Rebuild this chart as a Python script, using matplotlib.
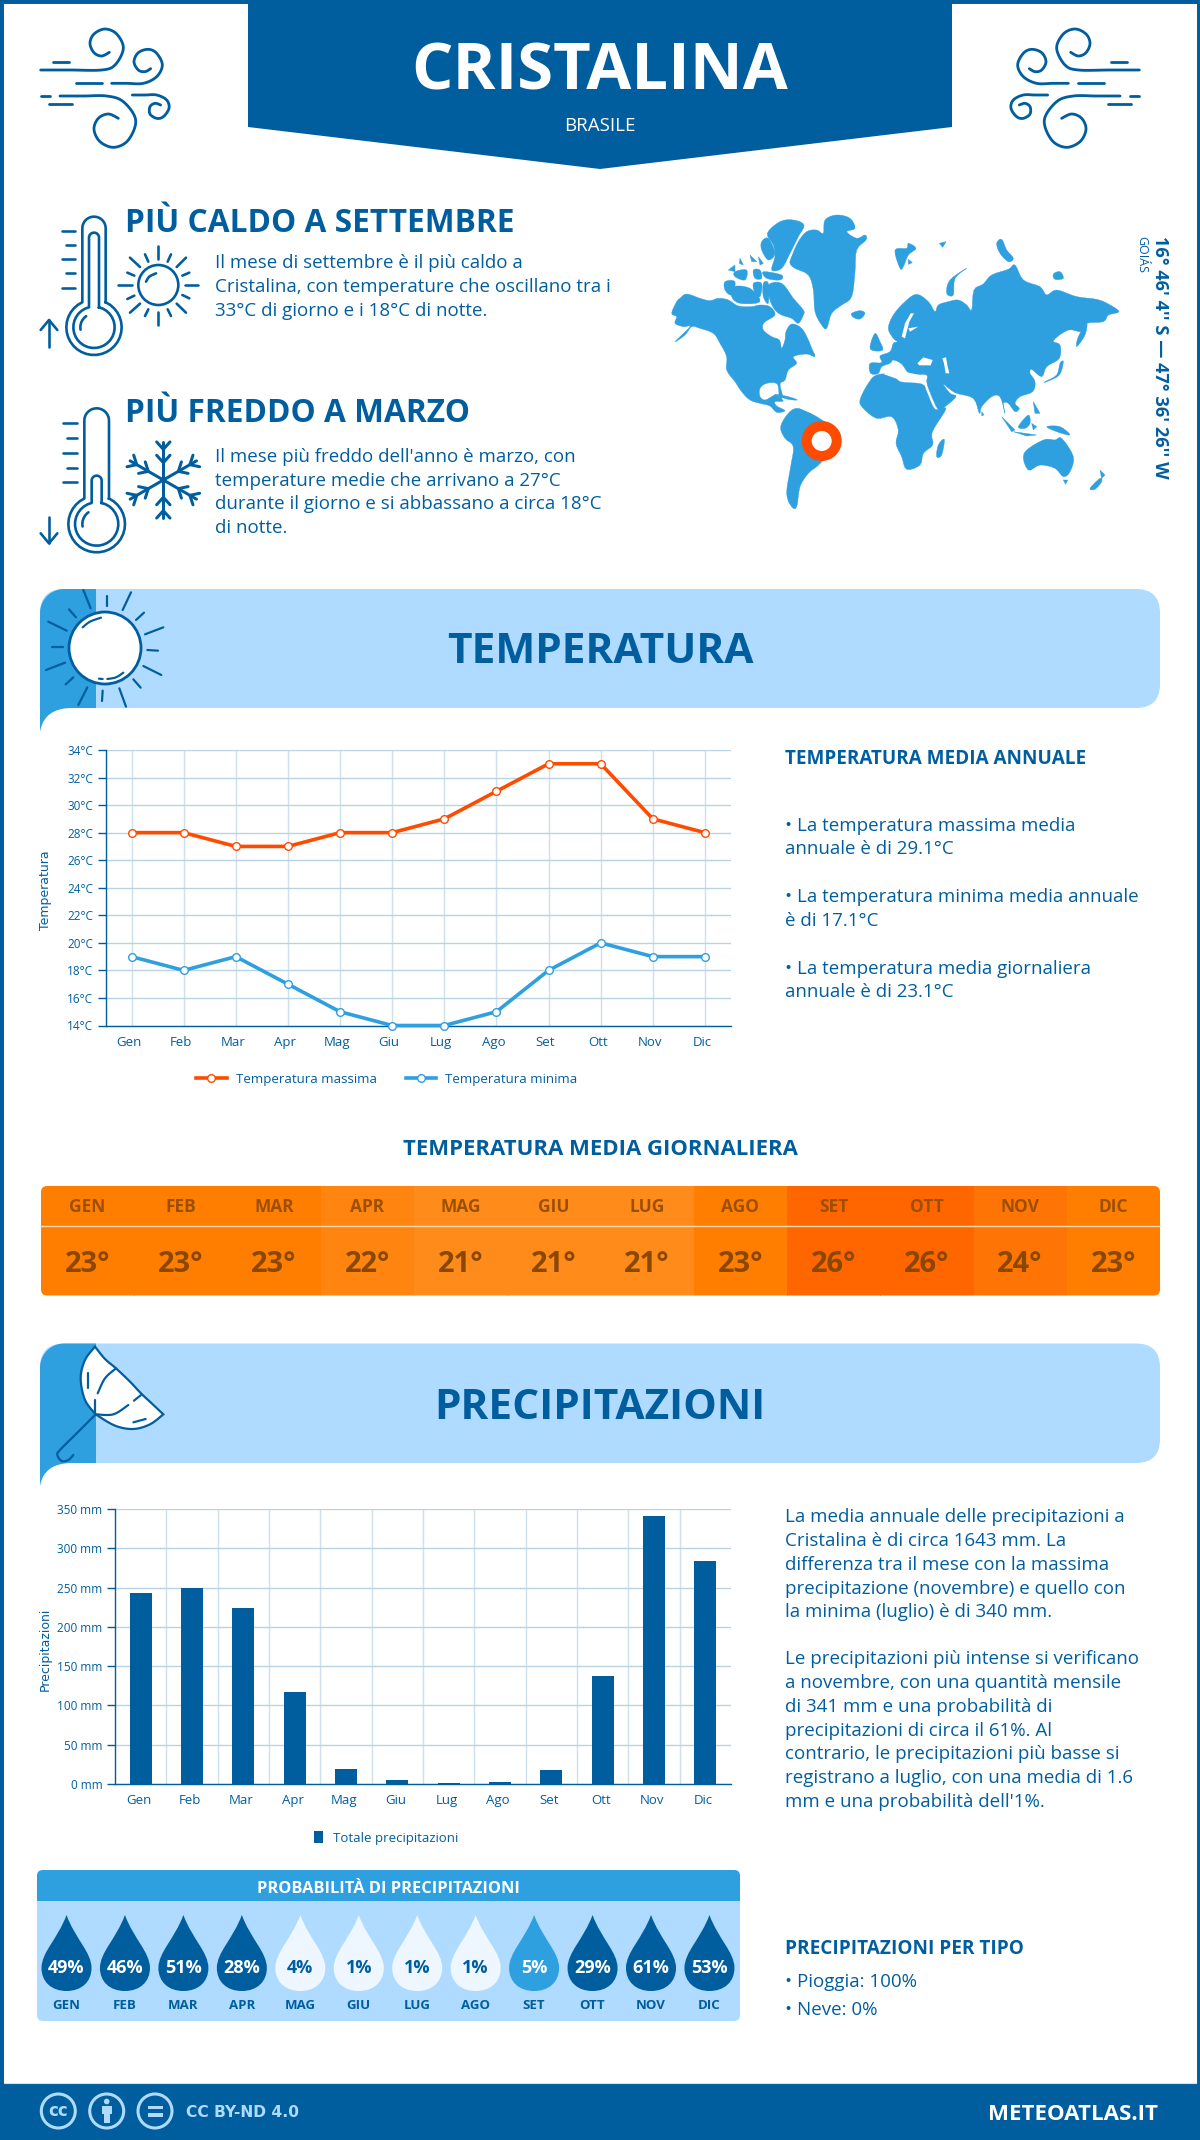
import numpy as np
import matplotlib
matplotlib.use("Agg")
import matplotlib.pyplot as plt
from matplotlib.patches import Circle, FancyBboxPatch, PathPatch, Polygon, Rectangle
from matplotlib.path import Path
from matplotlib.transforms import ScaledTranslation

plt.rcParams["font.family"] = ["Open Sans", "DejaVu Sans"]

BLUE = "#015e9e"
MID = "#2e9fdf"
LIGHT = "#aedbff"
RED = "#ff4b00"
GRID = "#b9d2e4"
W, H = 1200, 2140

months = ["Gen", "Feb", "Mar", "Apr", "Mag", "Giu", "Lug", "Ago", "Set", "Ott", "Nov", "Dic"]
temp_max = [28, 28, 27, 27, 28, 28, 29, 31, 33, 33, 29, 28]
temp_min = [19, 18, 19, 17, 15, 14, 14, 15, 18, 20, 19, 19]
temp_ticks = [14, 16, 18, 20, 22, 24, 26, 28, 30, 32, 34]
temp_avg = [23, 23, 23, 22, 21, 21, 21, 23, 26, 26, 24, 23]
temp_avg_colors = ["#ff7e00", "#ff7e00", "#ff7e00", "#ff8510", "#ff8c1a", "#ff8c1a",
                   "#ff8c1a", "#ff7e00", "#ff6600", "#ff6600", "#ff7505", "#ff7e00"]
rain = [243.6, 250, 224.5, 117, 19.5, 5.5, 1.6, 3, 18, 138, 341, 284]
rain_ticks = [0, 50, 100, 150, 200, 250, 300, 350]
rain_prob = [49, 46, 51, 28, 4, 1, 1, 1, 5, 29, 61, 53]

text_caldo = ["Il mese di settembre è il più caldo a",
              "Cristalina, con temperature che oscillano tra i",
              "33°C di giorno e i 18°C di notte."]
text_freddo = ["Il mese più freddo dell'anno è marzo, con",
               "temperature medie che arrivano a 27°C",
               "durante il giorno e si abbassano a circa 18°C",
               "di notte."]
text_temp = [(831, "• La temperatura massima media"), (854, "annuale è di 29.1°C"),
             (902, "• La temperatura minima media annuale"), (925.5, "è di 17.1°C"),
             (973.5, "• La temperatura media giornaliera"), (997, "annuale è di 23.1°C")]
text_rain = [(1522, "La media annuale delle precipitazioni a"),
             (1546, "Cristalina è di circa 1643 mm. La"),
             (1569.5, "differenza tra il mese con la massima"),
             (1593.5, "precipitazione (novembre) e quello con"),
             (1617, "la minima (luglio) è di 340 mm."),
             (1664, "Le precipitazioni più intense si verificano"),
             (1688, "a novembre, con una quantità mensile"),
             (1712, "di 341 mm e una probabilità di"),
             (1735.5, "precipitazioni di circa il 61%. Al"),
             (1759, "contrario, le precipitazioni più basse si"),
             (1783, "registrano a luglio, con una media di 1.6"),
             (1807, "mm e una probabilità dell'1%.")]

fig = plt.figure(figsize=(W / 100, H / 100), dpi=100, facecolor="white")
bg = fig.add_axes([0, 0, 1, 1])
bg.set_xlim(0, W)
bg.set_ylim(H, 0)
bg.axis("off")


def txt(x, y, s, size, color=BLUE, weight="normal", ha="left", **kw):
    bg.text(x, y, s, fontsize=size, color=color, fontweight=weight, ha=ha, va="baseline", **kw)


def curve(pts, closed=False, n=10):
    # catmull-rom through the given points, for the icons
    p = np.array(pts, dtype=float)
    if closed:
        p = np.vstack([p[-1], p, p[:2]])
    else:
        p = np.vstack([p[0], p, p[-1]])
    out = []
    for i in range(1, len(p) - 2):
        for t in np.linspace(0, 1, n, endpoint=False):
            a = 2 * p[i] + (p[i + 1] - p[i - 1]) * t
            b = (2 * p[i - 1] - 5 * p[i] + 4 * p[i + 1] - p[i + 2]) * t ** 2
            c = (-p[i - 1] + 3 * p[i] - 3 * p[i + 1] + p[i + 2]) * t ** 3
            out.append(0.5 * (a + b + c))
    out.append(p[-2])
    return np.array(out)


def stroke(pts, x0, y0, lw=2.6, color=BLUE, scale=1 / 3, mirror=None, smooth=True, zorder=3):
    p = curve(pts) if smooth and len(pts) > 2 else np.array(pts, dtype=float)
    xs = x0 + p[:, 0] * scale
    ys = y0 + p[:, 1] * scale
    if mirror is not None:
        xs = mirror - xs
    bg.plot(xs, ys, color=color, lw=lw * 0.72, solid_capstyle="round", zorder=zorder)


def arc(cx, cy, r, a0, a1, n=30):
    a = np.radians(np.linspace(a0, a1, n))
    return np.column_stack([cx + r * np.cos(a), cy + r * np.sin(a)])


# frame and banner
bg.add_patch(Rectangle((0, 0), W, H, fc="none", ec=BLUE, lw=5))
bg.add_patch(Polygon([(248, 0), (952, 0), (952, 127), (600, 169), (248, 127)], fc=BLUE, ec="none"))
txt(600, 89, "CRISTALINA", 47, color="white", weight="bold", ha="center")
txt(600, 131, "BRASILE", 13.5, color="white", ha="center")

wind = [
    [(62, 180), (150, 180), (245, 180), (285, 165), (310, 115), (290, 72), (255, 57), (222, 72), (210, 100), (222, 128), (245, 138), (268, 127)],
    [(100, 155), (148, 155)],
    [(275, 220), (320, 220), (370, 220), (410, 200), (427, 165), (410, 130), (385, 118), (355, 128), (342, 155), (355, 180), (375, 185), (392, 176)],
    [(168, 220), (245, 220)],
    [(62, 258), (90, 258)],
    [(120, 258), (190, 258), (260, 258), (310, 275), (347, 330), (325, 390), (282, 412), (240, 395), (222, 358), (235, 325), (265, 312), (295, 325)],
    [(87, 283), (155, 283)],
    [(337, 255), (375, 255), (410, 255), (440, 270), (447, 295), (430, 320), (410, 325), (390, 312), (390, 290), (405, 280), (422, 285)],
]
for pts in wind:
    stroke(pts, 20, 10, lw=2.8)
    stroke(pts, 20, 10, lw=2.8, mirror=1180)

# hot / cold headings
txt(125, 231.5, "PIÙ CALDO A SETTEMBRE", 22.8, weight="bold")
txt(125, 421.7, "PIÙ FREDDO A MARZO", 22.8, weight="bold")
for y, line in zip([268, 292, 315.5], text_caldo):
    txt(215, y, line, 13.5)
for y, line in zip([462.5, 486, 509, 533], text_freddo):
    txt(215, y, line, 13.5)


def thermometer(x0, y0, cx, top, hw, by, R, ih, itop, iR, ticks):
    a = np.degrees(np.arccos(hw / R))
    ai = np.degrees(np.arccos(ih / iR))
    outer = np.vstack([arc(cx, by, R, -a, 180 + a), arc(cx, top, hw, 180, 360)])
    inner = np.vstack([arc(cx, by, iR, -ai, 180 + ai), arc(cx, itop, ih, 180, 360)])
    for shape in (outer, inner):
        shape = np.vstack([shape, shape[0]])
        bg.plot(x0 + shape[:, 0] / 3, y0 + shape[:, 1] / 3, color=BLUE, lw=1.9)
    for x1, x2, y in ticks:
        stroke([(x1, y), (x2, y)], x0, y0)
    h = arc(cx, by, iR * 0.66, 170, 235, 12)
    bg.plot(x0 + h[:, 0] / 3, y0 + h[:, 1] / 3, color=BLUE, lw=1.9, solid_capstyle="round")


thermometer(30, 205, 192, 70, 35, 367, 83, 15, 98, 62,
            [(97, 135, 77), (107, 135, 120), (97, 135, 163), (107, 135, 205), (97, 135, 248)])
stroke([(57, 425), (57, 345)], 30, 205)
stroke([(32, 375), (57, 345), (82, 375)], 30, 205, smooth=False)
thermometer(30, 400, 200, 62, 37, 372, 85, 15, 242, 65,
            [(100, 140, 70), (110, 140, 115), (100, 140, 158), (110, 140, 203), (100, 140, 247)])
stroke([(57, 350), (57, 430)], 30, 400)
stroke([(32, 400), (57, 430), (82, 400)], 30, 400, smooth=False)

# small sun
bg.add_patch(Circle((30 + 385 / 3, 205 + 240 / 3), 20, fc="none", ec=BLUE, lw=1.9))
rays = [(265, 240, 305, 240), (465, 240, 505, 240), (385, 123, 385, 163), (385, 320, 385, 360),
        (300, 158, 330, 186), (468, 158, 440, 186), (300, 323, 330, 296), (468, 323, 440, 296),
        (345, 148, 355, 170), (423, 148, 413, 170), (292, 203, 313, 212), (478, 203, 457, 212),
        (292, 282, 313, 272), (478, 280, 457, 270), (345, 333, 355, 313), (423, 333, 413, 313)]
for x1, y1, x2, y2 in rays:
    stroke([(x1, y1), (x2, y2)], 30, 205)
stroke([(348, 230), (358, 215), (378, 205)], 30, 205)

# snowflake
sx, sy = 400, 240
for ang in [90, 30, -30, -90, 150, 210]:
    u = np.array([np.cos(np.radians(ang)), -np.sin(np.radians(ang))])
    c = np.array([sx, sy])
    stroke([tuple(c), tuple(c + u * 115)], 30, 400, lw=3)
    for d, br in [(92, 30), (52, 30)]:
        base = c + u * d
        for side in (-1, 1):
            a2 = np.radians(ang + side * 42)
            tip = base + np.array([np.cos(a2), -np.sin(a2)]) * br
            stroke([tuple(base), tuple(tip)], 30, 400, lw=3)


# world map, traced in crop coordinates (x0=660, y0=200, 3x)
def z6(pts):
    return [(x + 720, y) for x, y in pts]


land = [
    # north america
    [(45, 425), (75, 405), (95, 380), (120, 385), (160, 400), (180, 430), (200, 470), (200, 510), (225, 545),
     (245, 575), (270, 600), (300, 610), (330, 618), (350, 637), (375, 632), (350, 618), (345, 605), (370, 603),
     (348, 585), (335, 590), (315, 600), (300, 590), (300, 565), (320, 550), (352, 552), (358, 590), (368, 590),
     (360, 552), (375, 540), (385, 510), (410, 490), (400, 470), (440, 462), (465, 470), (455, 445), (445, 420),
     (425, 385), (395, 372), (378, 395), (375, 420), (365, 445), (358, 420), (335, 410), (310, 390), (312, 368),
     (345, 345), (330, 320), (300, 315), (275, 320), (235, 318), (205, 300), (175, 295), (150, 302), (120, 295),
     (80, 282), (60, 295), (50, 305), (35, 340), (50, 350), (45, 370), (70, 380), (90, 380)],
    # arctic islands
    [(325, 255), (365, 250), (400, 295), (430, 330), (430, 345), (415, 370), (395, 355), (365, 345), (345, 330), (330, 300)],
    [(322, 100), (360, 65), (400, 60), (432, 75), (415, 110), (390, 160), (365, 205), (335, 210), (345, 170), (340, 135)],
    [(305, 125), (325, 115), (345, 160), (325, 180), (305, 150)],
    [(195, 245), (225, 245), (215, 285), (195, 270)],
    [(220, 260), (270, 265), (300, 305), (240, 310), (215, 290)],
    [(205, 210), (225, 195), (225, 215)],
    [(225, 215), (260, 210), (255, 240), (225, 230)],
    [(280, 210), (300, 210), (305, 235), (285, 235)],
    [(310, 215), (365, 225), (360, 240), (320, 235)],
    [(270, 165), (290, 185), (275, 185)],
    [(295, 170), (310, 190), (300, 195)],
    [(240, 175), (250, 195), (238, 190)],
    [(280, 250), (305, 250), (300, 290), (285, 280)],
    [(310, 250), (325, 250), (325, 310), (310, 290)],
    # greenland, iceland, svalbard
    [(395, 170), (415, 125), (440, 95), (470, 90), (490, 100), (495, 60), (530, 45), (570, 55), (585, 85), (560, 95),
     (590, 115), (615, 105), (618, 120), (590, 150), (585, 215), (575, 290), (545, 315), (515, 340), (500, 385),
     (485, 375), (465, 335), (460, 270), (445, 225), (405, 205), (390, 190)],
    [(575, 340), (600, 332), (615, 340), (600, 357), (580, 352)],
    [(705, 150), (740, 145), (745, 130), (768, 145), (745, 165), (730, 200), (720, 205)],
    [(745, 178), (757, 188), (745, 193)],
    [(838, 130), (858, 125), (848, 142)],
    # cuba
    [(345, 583), (385, 590), (412, 600), (380, 597)],
    # south america
    [(362, 680), (385, 640), (410, 625), (440, 635), (470, 650), (500, 670), (540, 700), (525, 740), (490, 780),
     (470, 800), (445, 820), (420, 860), (410, 920), (395, 920), (380, 880), (392, 800), (400, 740), (375, 715)],
    # africa, madagascar
    [(600, 600), (625, 550), (650, 525), (700, 523), (720, 545), (785, 552), (800, 575), (825, 628), (858, 625),
     (825, 680), (815, 705), (818, 735), (790, 760), (780, 795), (740, 808), (725, 770), (708, 730), (715, 690),
     (695, 650), (650, 655), (610, 625)],
    [(835, 735), (853, 718), (845, 765), (830, 770)],
    # uk
    [(630, 440), (645, 400), (660, 425), (668, 450), (640, 452)],
    # eurasia
    [(632, 520), (630, 490), (665, 488), (660, 468), (690, 455), (700, 430), (712, 425), (700, 415), (685, 385),
     (700, 345), (735, 305), (770, 283), (805, 305), (825, 335)]
    + z6([(115, 315), (145, 305), (175, 300), (200, 315), (215, 330), (222, 270), (250, 252), (275, 225), (325, 208),
          (345, 195), (370, 240), (420, 260), (440, 285), (470, 270), (530, 290), (590, 298), (625, 312), (657, 335),
          (625, 345), (610, 365), (560, 370), (545, 395), (505, 390), (460, 422), (480, 435), (478, 475), (440, 500),
          (425, 530), (395, 508), (390, 520), (405, 545), (398, 575), (360, 590), (345, 610), (358, 625), (345, 635),
          (325, 610), (310, 610), (315, 640), (300, 590), (275, 590), (245, 620), (238, 640), (220, 595), (165, 578),
          (130, 552), (150, 580), (168, 590), (135, 620), (115, 630), (82, 555), (80, 525), (40, 525)])
    + [(745, 520), (725, 492), (700, 480), (690, 490), (665, 500), (655, 520)],
]
land += [z6(p) for p in [
    [(140, 280), (150, 240), (200, 205), (165, 235), (160, 285)],
    [(290, 130), (305, 118), (320, 150), (340, 175), (325, 185), (300, 160)],
    [(460, 222), (480, 215), (490, 235), (465, 238)],
    [(530, 440), (535, 410), (560, 370), (555, 405)],
    [(435, 545), (470, 525), (480, 490), (490, 485), (478, 525), (440, 545)],
    [(400, 605), (420, 640), (405, 640)],
    [(355, 680), (385, 645), (390, 670), (375, 685)],
    [(305, 650), (345, 690), (335, 695)],
    [(340, 695), (410, 705), (380, 708)],
    [(440, 680), (480, 680), (510, 705), (470, 695)],
    [(395, 670), (410, 680), (400, 690)],
    [(372, 760), (430, 720), (465, 720), (485, 715), (520, 770), (510, 815), (490, 830), (465, 805), (420, 795), (385, 810)],
    [(490, 840), (503, 840), (497, 853)],
    [(570, 865), (600, 835), (605, 845), (585, 868)],
    [(600, 810), (615, 825), (605, 835)],
    [(245, 635), (252, 645), (245, 647)],
]]
for poly in land:
    p = curve(poly, closed=True, n=4) if len(poly) > 3 else np.array(poly, dtype=float)
    bg.add_patch(Polygon(np.column_stack([660 + p[:, 0] / 3, 200 + p[:, 1] / 3]), fc=MID, ec=MID, lw=0.3, zorder=2))
water = [
    [(772, 490), (790, 472), (818, 480), (812, 496), (778, 496)],
    [(847, 475), (858, 472), (863, 500), (868, 520), (857, 520), (852, 490)],
    [(735, 415), (748, 365), (762, 340), (752, 340), (735, 370), (725, 410)],
    [(745, 385), (775, 380), (750, 395)],
    [(715, 500), (745, 518), (790, 527), (790, 545), (720, 540), (670, 522), (695, 508)],
]
for poly in water:
    bg.add_patch(Polygon([(660 + x / 3, 200 + y / 3) for x, y in poly], fc="white", ec="none", zorder=2.1))
bg.add_patch(Circle((821.7, 441), 15, fc="white", ec=RED, lw=7.2, zorder=4))

txt(1155, 236, "16° 46' 4'' S — 47° 36' 26'' W", 13.1, weight="bold", rotation=270,
    rotation_mode="anchor")
txt(1138, 236, "GOIÁS", 9, rotation=270, rotation_mode="anchor")


def section_band(top, bottom, tail):
    bg.add_patch(FancyBboxPatch((40 + 24, top + 24), 1120 - 48, bottom - top - 48,
                                boxstyle="round,pad=24,rounding_size=24", fc=LIGHT, ec="none", zorder=1))
    edge = [(96, top), (64, top)] + [tuple(p) for p in arc(64, top + 24, 24, 270, 180, 12)]
    t = np.linspace(0, 1, 14)[:, None]
    p0, p1, p2 = np.array([40, tail]), np.array([44, bottom]), np.array([72, bottom])
    edge += [tuple(q) for q in (1 - t) ** 2 * p0 + 2 * t * (1 - t) * p1 + t ** 2 * p2]
    edge += [(96, bottom)]
    bg.add_patch(Polygon(edge, fc=MID, ec="none", zorder=1.5))


# temperature section
section_band(589, 708, 732)
bg.add_patch(Circle((105, 648), 36, fc="white", ec=BLUE, lw=2.0, zorder=3))
big_rays = [(160, 30, 182, 85), (230, 47, 230, 78), (303, 37, 278, 90), (342, 98, 318, 120), (400, 142, 345, 163),
            (352, 210, 384, 212), (340, 258, 394, 285), (310, 298, 332, 323), (268, 325, 288, 380), (218, 332, 216, 363),
            (172, 322, 145, 375), (130, 292, 107, 313), (105, 248, 48, 270), (98, 200, 66, 200), (110, 152, 55, 125),
            (138, 112, 117, 88)]
for x1, y1, x2, y2 in big_rays:
    stroke([(x1, y1), (x2, y2)], 30, 580, lw=2.2)
stroke([(158, 142), (180, 125), (213, 113)], 30, 580, lw=2.2)
stroke([(232, 297), (258, 292), (280, 278)], 30, 580, lw=2.2)
stroke([(207, 296), (218, 297)], 30, 580, lw=2.2)
txt(600, 663, "TEMPERATURA", 30.5, weight="bold", ha="center", zorder=3)


def chart_axes(left, right, top, bottom):
    ax = fig.add_axes([left / W, 1 - bottom / H, (right - left) / W, (bottom - top) / H])
    ax.patch.set_alpha(0)
    for side in ("top", "right"):
        ax.spines[side].set_visible(False)
    for side in ("left", "bottom"):
        ax.spines[side].set_color(BLUE)
        ax.spines[side].set_linewidth(1.0)
    ax.set_axisbelow(True)
    return ax


def shift_labels(labels, dx):
    for lab in labels:
        lab.set_transform(lab.get_transform() + ScaledTranslation(dx / 100, 0, fig.dpi_scale_trans))


ax = chart_axes(105.5, 731, 750, 1025.5)
x = np.arange(12)
ax.plot(x, temp_max, color=RED, lw=2.6, marker="o", ms=5.5, mfc="white", mec=RED, mew=1, clip_on=False,
        label="Temperatura massima", zorder=3)
ax.plot(x, temp_min, color=MID, lw=2.6, marker="o", ms=5.5, mfc="white", mec=MID, mew=1, clip_on=False,
        label="Temperatura minima", zorder=3)
ax.set_xlim(-0.5, 11.5)
ax.set_ylim(14, 34)
ax.set_yticks(temp_ticks)
ax.set_yticklabels([f"{v}°C" for v in temp_ticks], fontsize=8.5, color=BLUE)
ax.set_xticks(x)
ax.set_xticklabels(months, fontsize=9.5, color=BLUE)
ax.grid(axis="y", color=GRID, lw=1)
ax.grid(axis="x", color="#cfe0ec", lw=1)
ax.tick_params(axis="y", length=6, width=1, color=BLUE, pad=3)
ax.tick_params(axis="x", length=0, pad=7.5)
shift_labels(ax.get_xticklabels(), -3)
ax.set_ylabel("Temperatura", fontsize=9, color=BLUE, family="DejaVu Sans", va="center")
ax.yaxis.set_label_coords((45 - 105.5) / 625.5, 0.49)
ax.legend(loc="center", bbox_to_anchor=(0.45, -0.195), ncol=2, frameon=False, fontsize=9.5, labelcolor=BLUE,
          handlelength=2.3, columnspacing=2.2, handletextpad=0.7)

txt(785, 764.5, "TEMPERATURA MEDIA ANNUALE", 13.6, weight="bold")
for y, line in text_temp:
    txt(785, y, line, 13.5)
txt(600, 1155, "TEMPERATURA MEDIA GIORNALIERA", 15.9, weight="bold", ha="center")

# daily average strip
cell = (1160 - 41) / 12
clip_strip = FancyBboxPatch((47, 1192), 1107, 97.5, boxstyle="round,pad=6,rounding_size=6", fc="none", ec="none",
                            transform=bg.transData)
bg.add_patch(clip_strip)
for i, (m, v, c) in enumerate(zip(months, temp_avg, temp_avg_colors)):
    r = Rectangle((41 + i * cell, 1186), cell + 0.5, 109.5, fc=c, ec="none", zorder=1)
    bg.add_patch(r)
    r.set_clip_path(clip_strip)
    txt(41 + (i + 0.5) * cell, 1212, m.upper(), 12.5, color="#9d4f00", weight="bold", ha="center", zorder=3)
    txt(41 + (i + 0.5) * cell, 1272, f"{v}°", 21, color="#8a4700", weight="bold", ha="center", zorder=3)
bg.plot([41, 1160], [1225.6, 1225.6], color="#ffd9ad", lw=1, zorder=2)

# precipitation section
section_band(1343.5, 1463, 1486)
canopy = np.vstack([curve([(195, 35), (225, 72), (258, 100), (300, 140), (333, 175), (365, 205), (400, 238)], n=5),
                    curve([(400, 238), (360, 268), (310, 282), (255, 272), (197, 238)], n=6),
                    curve([(197, 238), (165, 195), (152, 130), (165, 75), (195, 35)], n=6)])
bg.add_patch(Polygon(np.column_stack([30 + canopy[:, 0] / 3, 1335 + canopy[:, 1] / 3]), fc="white", ec=BLUE, lw=1.6,
                     zorder=3))
for pts in [[(197, 238), (250, 238), (295, 210)], [(312, 197), (333, 180)], [(258, 100), (225, 130), (203, 175)],
            [(195, 195), (195, 238)], [(173, 115), (173, 158)], [(310, 262), (347, 252)],
            [(195, 240), (140, 295), (90, 345), (82, 360), (95, 378), (115, 375), (130, 360)]]:
    stroke(pts, 30, 1335, lw=2.2, zorder=4)
txt(600, 1419, "PRECIPITAZIONI", 30.5, weight="bold", ha="center", zorder=3)

ax2 = chart_axes(115, 731, 1509, 1784)
ax2.bar(x, rain, width=0.43, color=BLUE, label="Totale precipitazioni", zorder=3)
ax2.set_xlim(-0.5, 11.5)
ax2.set_ylim(0, 350)
ax2.set_yticks(rain_ticks)
ax2.set_yticklabels([f"{v} mm" for v in rain_ticks], fontsize=8.5, color=BLUE)
ax2.set_xticks(x)
ax2.set_xticklabels(months, fontsize=9.5, color=BLUE)
ax2.set_xticks(x[:-1] + 0.5, minor=True)
ax2.grid(axis="y", color=GRID, lw=1)
ax2.grid(axis="x", which="minor", color="#cfe0ec", lw=1)
ax2.tick_params(axis="y", length=6, width=1, color=BLUE, pad=3)
ax2.tick_params(axis="x", which="both", length=0, pad=7.5)
shift_labels(ax2.get_xticklabels(), -2)
ax2.set_ylabel("Precipitazioni", fontsize=9, color=BLUE, family="DejaVu Sans", va="center")
ax2.yaxis.set_label_coords((45 - 115) / 616, 0.49)
ax2.legend(loc="center", bbox_to_anchor=(0.44, -0.197), frameon=False, fontsize=9.5, labelcolor=BLUE,
           handlelength=0.7, handleheight=1.0, handletextpad=0.7)

for y, line in text_rain:
    txt(785, y, line, 13.5)

# rain probability panel
panel = FancyBboxPatch((43, 1876), 691, 139, boxstyle="round,pad=6,rounding_size=6", fc=LIGHT, ec="none", zorder=1)
bg.add_patch(panel)
hdr = Rectangle((37, 1870), 703, 31, fc=MID, ec="none", zorder=1.1)
bg.add_patch(hdr)
hdr.set_clip_path(panel)
txt(388.5, 1892.7, "PROBABILITÀ DI PRECIPITAZIONI", 11.8, color="white", weight="bold", ha="center", zorder=3)


def drop_path(cx, apex, belly, hw, low):
    verts = [(cx, apex), (cx + hw * 0.35, apex + (belly - apex) * 0.45), (cx + hw, belly - (belly - apex) * 0.3), (cx + hw, belly),
             (cx + hw, belly + (low - belly) * 0.6), (cx + hw * 0.6, low), (cx, low),
             (cx - hw * 0.6, low), (cx - hw, belly + (low - belly) * 0.6), (cx - hw, belly),
             (cx - hw, belly - (belly - apex) * 0.3), (cx - hw * 0.35, apex + (belly - apex) * 0.45), (cx, apex), (cx, apex)]
    codes = [Path.MOVETO] + [Path.CURVE4] * 12 + [Path.CLOSEPOLY]
    return Path(verts, codes)


for i, (m, p) in enumerate(zip(months, rain_prob)):
    cx = 66.5 + 58.45 * i
    if p >= 10:
        fc, tc = BLUE, "white"
    elif p >= 5:
        fc, tc = MID, "white"
    else:
        fc, tc = "#eef7ff", BLUE
    bg.add_patch(PathPatch(drop_path(cx, 1915, 1968, 25, 1991), fc=fc, ec="none", zorder=2))
    txt(cx, 1972.7, f"{p}%", 13, color=tc, weight="bold", ha="center", zorder=3)
    txt(cx, 2008.7, m.upper(), 9.5, weight="bold", ha="center", zorder=3)

txt(785, 1953.7, "PRECIPITAZIONI PER TIPO", 13.7, weight="bold")
txt(785, 1986.7, "• Pioggia: 100%", 13.5)
txt(785, 2015.3, "• Neve: 0%", 13.5)

# footer
bg.add_patch(Rectangle((0, 2083), W, 57, fc=BLUE, ec="none", zorder=5))
bg.plot([4, 1196], [2082.5, 2082.5], color="#d8dde0", lw=0.8, zorder=5)
for cx in (58.3, 106.7, 155):
    bg.add_patch(Circle((cx, 2111), 17, fc="none", ec=LIGHT, lw=2.2, zorder=6))
bg.text(58.3, 2111, "cc", fontsize=12, fontweight="bold", color=LIGHT, ha="center", va="center", zorder=6,
        family="DejaVu Sans")
bg.add_patch(Circle((106.7, 2101.5), 2.8, fc=LIGHT, ec="none", zorder=6))
bg.add_patch(Rectangle((101.5, 2105.5), 10.4, 8.5, fc=LIGHT, ec="none", zorder=6))
bg.add_patch(Rectangle((103.7, 2113), 6, 10, fc=LIGHT, ec="none", zorder=6))
bg.add_patch(Rectangle((147.5, 2105.5), 15, 3.6, fc=LIGHT, ec="none", zorder=6))
bg.add_patch(Rectangle((147.5, 2113), 15, 3.6, fc=LIGHT, ec="none", zorder=6))
bg.text(185.7, 2117, "CC BY-ND 4.0", fontsize=11.2, fontweight="bold", color=LIGHT, family="DejaVu Sans", zorder=6)
txt(1157.5, 2120, "METEOATLAS.IT", 16, color="white", weight="bold", ha="right", zorder=6)

fig.savefig("out.png", dpi=100)
